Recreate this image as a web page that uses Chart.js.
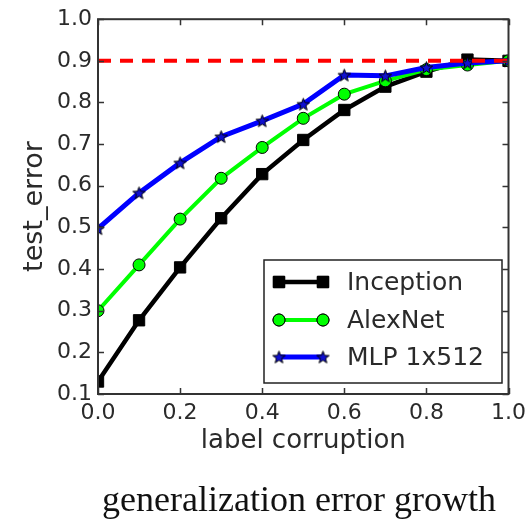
<!DOCTYPE html>
<html>
<head>
<meta charset="utf-8">
<script src="https://cdn.jsdelivr.net/npm/chart.js@4/dist/chart.umd.min.js"></script>
<style>
  body { margin: 0; background: #fff; }
  canvas { display: block; }
</style>
</head>
<body>
<canvas id="chart" width="532" height="519"></canvas>
<script>
// label corruption levels (x) and test error per network (y)
const corruption = [0.0, 0.1, 0.2, 0.3, 0.4, 0.5, 0.6, 0.7, 0.8, 0.9, 1.0];
const inception  = [0.13, 0.277, 0.404, 0.522, 0.628, 0.71, 0.782, 0.838, 0.874, 0.903, 0.9];
const alexnet    = [0.30, 0.41, 0.52, 0.618, 0.692, 0.762, 0.82, 0.852, 0.879, 0.89, 0.9];
const mlp        = [0.497, 0.583, 0.655, 0.718, 0.756, 0.796, 0.866, 0.864, 0.884, 0.895, 0.9];
const chanceLevel = 0.9;
const seriesNames = ['Inception', 'AlexNet', 'MLP 1x512'];

const FONT = '"DejaVu Sans", sans-serif';
const AXIS = '#333';
const TEXT = '#2a2a2a';

// five-point star marker for the MLP series
function makeStar(size) {
    const c = document.createElement('canvas');
    c.width = size; c.height = size;
    const g = c.getContext('2d');
    const cx = size / 2, cy = size / 2 + 0.6, R = size / 2 - 1, r = R * 0.42;
    g.beginPath();
    for (let i = 0; i < 10; i++) {
        const rad = i % 2 === 0 ? R : r;
        const a = -Math.PI / 2 + i * Math.PI / 5;
        g.lineTo(cx + rad * Math.cos(a), cy + rad * Math.sin(a));
    }
    g.closePath();
    g.fillStyle = '#1010d0';
    g.fill();
    g.lineWidth = 1;
    g.strokeStyle = '#000';
    g.stroke();
    return c;
}
const star = makeStar(15);

const pts = ys => corruption.map((x, i) => ({ x: x, y: ys[i] }));

const styles = [
    { color: '#000', width: 4.5, pointStyle: 'rect', radius: 8, fill: '#000' },
    { color: '#00ff00', width: 4, pointStyle: 'circle', radius: 6, fill: '#00ff00' },
    { color: '#0000ff', width: 5, pointStyle: star, radius: 7, fill: '#1010d0' }
];

// box, inward ticks, legend and caption (matplotlib classic look)
const decorations = {
    id: 'decorations',
    afterDatasetsDraw(chart) {
        const ctx = chart.ctx;
        const { left, right, top, bottom } = chart.chartArea;
        const xs = chart.scales.x, ys = chart.scales.y;
        ctx.save();
        ctx.strokeStyle = AXIS;
        ctx.lineWidth = 1.5;
        const tl = 6;
        xs.ticks.forEach(t => {
            const px = Math.round(xs.getPixelForValue(t.value)) + 0.5;
            ctx.beginPath();
            ctx.moveTo(px, bottom); ctx.lineTo(px, bottom - tl);
            ctx.moveTo(px, top); ctx.lineTo(px, top + tl);
            ctx.stroke();
        });
        ys.ticks.forEach(t => {
            const py = Math.round(ys.getPixelForValue(t.value)) + 0.5;
            ctx.beginPath();
            ctx.moveTo(left, py); ctx.lineTo(left + tl, py);
            ctx.moveTo(right, py); ctx.lineTo(right - tl, py);
            ctx.stroke();
        });
        ctx.lineWidth = 2;
        ctx.strokeRect(left, top, right - left, bottom - top);

        // legend
        const lx = 264, ly = 260, lw = 238, lh = 123;
        ctx.fillStyle = '#fff';
        ctx.fillRect(lx, ly, lw, lh);
        ctx.lineWidth = 1.5;
        ctx.strokeStyle = '#222';
        ctx.strokeRect(lx, ly, lw, lh);
        const rows = [282, 320, 357];
        seriesNames.forEach((name, i) => {
            const s = styles[i];
            const y = rows[i];
            ctx.strokeStyle = s.color;
            ctx.lineWidth = s.width;
            ctx.beginPath();
            ctx.moveTo(279, y); ctx.lineTo(323, y);
            ctx.stroke();
            [279, 323].forEach(x => {
                ctx.fillStyle = s.fill;
                ctx.strokeStyle = '#000';
                ctx.lineWidth = 1;
                Chart.helpers.drawPoint(ctx, { pointStyle: s.pointStyle, radius: s.radius, borderWidth: 1 }, x, y);
                if (typeof s.pointStyle === 'string') { ctx.fill(); ctx.stroke(); }
            });
            ctx.fillStyle = TEXT;
            ctx.font = '25px ' + FONT;
            ctx.textAlign = 'left';
            ctx.textBaseline = 'middle';
            ctx.fillText(name, 347, y + 1);
        });

        // caption under the figure
        ctx.fillStyle = '#111';
        ctx.font = '36px "Liberation Serif", serif';
        ctx.textAlign = 'center';
        ctx.textBaseline = 'alphabetic';
        ctx.fillText('generalization error growth', 299, 511);
        ctx.restore();
    }
};

function lineSet(label, data, s, order) {
    return {
        label: label,
        data: pts(data),
        borderColor: s.color,
        borderWidth: s.width,
        backgroundColor: s.fill,
        pointStyle: s.pointStyle,
        pointRadius: s.radius,
        pointBackgroundColor: s.fill,
        pointBorderColor: '#000',
        pointBorderWidth: 1,
        tension: 0,
        clip: 0,
        order: order
    };
}

new Chart(document.getElementById('chart').getContext('2d'), {
    type: 'line',
    data: {
        datasets: [
            {
                label: 'chance',
                data: [{ x: 0, y: chanceLevel }, { x: 1, y: chanceLevel }],
                borderColor: '#ff0000',
                borderWidth: 4,
                borderDash: [13, 9],
                pointRadius: 0,
                clip: 0,
                order: 0
            },
            lineSet(seriesNames[2], mlp, styles[2], 1),
            lineSet(seriesNames[1], alexnet, styles[1], 2),
            lineSet(seriesNames[0], inception, styles[0], 3)
        ]
    },
    options: {
        responsive: false,
        animation: false,
        layout: { padding: { left: 0, right: 17, top: 19, bottom: 55 } },
        scales: {
            x: {
                type: 'linear',
                min: 0, max: 1,
                grid: { display: false, drawTicks: false },
                border: { display: false },
                ticks: {
                    stepSize: 0.2,
                    maxRotation: 0,
                    padding: 6,
                    color: TEXT,
                    font: { family: FONT, size: 22 },
                    callback: v => v.toFixed(1)
                },
                title: {
                    display: true,
                    text: 'label corruption',
                    color: TEXT,
                    font: { family: FONT, size: 26 },
                    padding: { top: 0, bottom: 7 }
                },
                afterFit(s) { s.height = 70; }
            },
            y: {
                min: 0.1, max: 1.0,
                grid: { display: false, drawTicks: false },
                border: { display: false },
                ticks: {
                    stepSize: 0.1,
                    padding: 6,
                    color: TEXT,
                    font: { family: FONT, size: 22 },
                    callback: v => v.toFixed(1)
                },
                title: {
                    display: true,
                    text: 'test_error',
                    color: TEXT,
                    font: { family: FONT, size: 27 },
                    padding: { top: 19, bottom: 0 }
                },
                afterFit(s) { s.width = 98; }
            }
        },
        plugins: {
            legend: { display: false },
            tooltip: { enabled: false }
        }
    },
    plugins: [decorations]
});
</script>
</body>
</html>
